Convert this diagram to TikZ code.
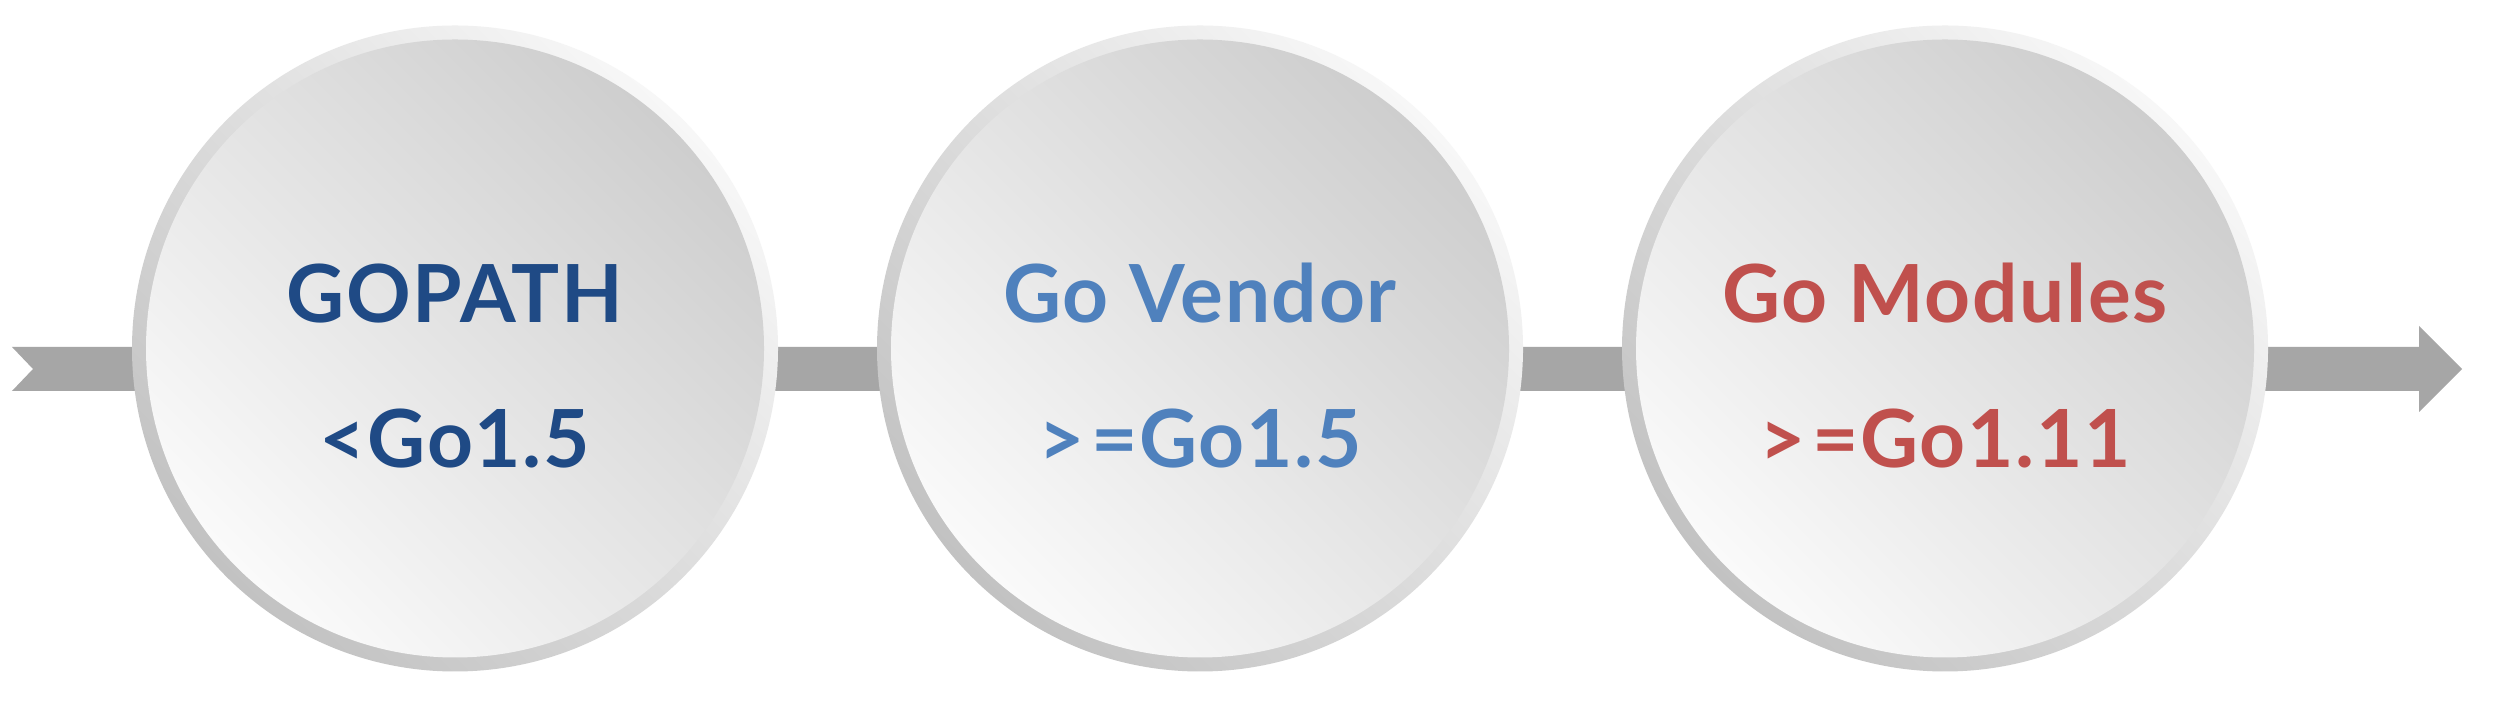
\documentclass[tikz,border=0pt]{standalone}
\usepackage{fontspec}
\setsansfont{Lato}[LetterSpace=2]
\usetikzlibrary{positioning, calc}

\definecolor{gopathblue}{HTML}{1F4A85}
\definecolor{vendorblue}{HTML}{4F81BD}
\definecolor{modred}{HTML}{C0504D}
\definecolor{bandgray}{HTML}{A6A6A6}
\definecolor{rimlight}{HTML}{F7F7F7}
\definecolor{rimdark}{HTML}{C2C2C2}
\definecolor{facedark}{HTML}{CDCDCD}
\definecolor{facemid}{HTML}{EDEDED}
\definecolor{facelight}{HTML}{FBFBFB}

\begin{document}
\begin{tikzpicture}[node distance=7.45cm, on grid, font=\sffamily\bfseries\fontsize{22.8}{41.4}\selectfont]

        \tikzstyle{disc}=[circle, minimum size=6.46cm, inner sep=0pt, outer sep=0pt, align=center,
            text height=2.39cm, text depth=0pt,
            top color=rimlight, bottom color=rimdark, shading angle=-45,
            path picture={\shade[top color=facedark, middle color=facemid, bottom color=facelight, shading angle=-45]
                (path picture bounding box.center) circle (3.09cm);}]
        \tikzstyle{band}=[fill=bandgray]

        \useasboundingbox[fill=white] (0,0) rectangle (24.98,7.08);

        \coordinate (tail) at (0.12,3.39);
        \coordinate (head) at (24.62,3.39);

        \fill[band] ($(tail)+(0,0.22)$) -- ($(head)+(-0.43,0.22)$) -- ($(head)+(-0.43,0.43)$) -- (head)
            -- ($(head)+(-0.43,-0.43)$) -- ($(head)+(-0.43,-0.22)$) -- ($(tail)+(0,-0.22)$)
            -- ($(tail)+(0.21,0)$) -- cycle;

        \node[disc, text=gopathblue] (gopath) at (4.55,3.595) {GOPATH\\<Go1.5};
        \node[disc, text=vendorblue] (vendor) [right=of gopath] {Go Vendor\\>\kern2pt=Go1.5};
        \node[disc, text=modred] (modules) [right=of vendor] {Go Modules\\>\kern2pt=Go1.11};

\end{tikzpicture}
\end{document}
